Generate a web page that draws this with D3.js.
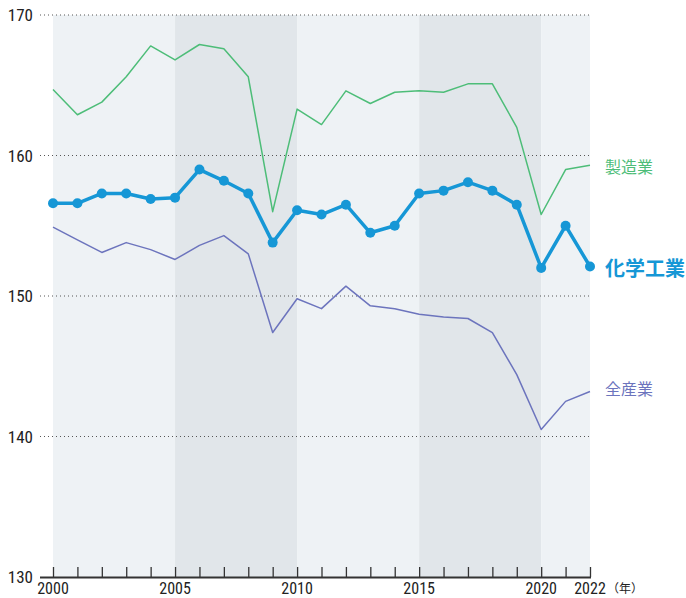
<!DOCTYPE html>
<html><head><meta charset="utf-8">
<script src="https://cdn.jsdelivr.net/npm/d3@7"></script>
<style>body{margin:0;background:#fff}</style>
</head><body><svg id="c" width="686" height="598"></svg>
<script>
const years = d3.range(2000, 2023);
const chemical = [156.6,156.6,157.3,157.3,156.9,157.0,159.0,158.2,157.3,153.8,156.1,155.8,156.5,154.5,155.0,157.3,157.5,158.1,157.5,156.5,152.0,155.0,152.1];
const manufacturing = [164.7,162.9,163.8,165.6,167.8,166.8,167.9,167.6,165.6,156.0,163.3,162.2,164.6,163.7,164.5,164.6,164.5,165.1,165.1,162.0,155.8,159.0,159.3];
const allIndustry = [154.9,154.0,153.1,153.8,153.3,152.6,153.6,154.3,153.0,147.4,149.8,149.1,150.7,149.3,149.1,148.7,148.5,148.4,147.4,144.4,140.5,142.5,143.2];
const yTicks = [130,140,150,160,170];
const xTickLabels = [2000,2005,2010,2015,2020,2022];
const bands = [[2000,2005,"#eef2f5"],[2005,2010,"#e1e6ea"],[2010,2015,"#eef2f5"],[2015,2020,"#e1e6ea"],[2020,2022,"#eef2f5"]];
const seriesLabels = [
  {name:"製造業", data:manufacturing, color:"#4dbd78", width:1.5, bold:false, size:16, dy:2},
  {name:"化学工業", data:chemical, color:"#1697d6", width:3.5, bold:true, size:20, dy:3},
  {name:"全産業", data:allIndustry, color:"#6c74bd", width:1.5, bold:false, size:16, dy:-2}
];

const svg = d3.select("#c");
const x = d3.scaleLinear().domain([2000,2022]).range([53,590]);
const y = d3.scaleLinear().domain([130,170]).range([577,15]);
const numFont = "'Liberation Sans Narrow','Roboto Condensed','Arial Narrow',sans-serif";

svg.selectAll("rect.band").data(bands).join("rect")
  .attr("x", d=>x(d[0])).attr("width", d=>x(d[1])-x(d[0]))
  .attr("y", y(170)).attr("height", y(130)-y(170)).attr("fill", d=>d[2]);

svg.selectAll("line.grid").data(yTicks.filter(t=>t>130)).join("line")
  .attr("x1", 40).attr("x2", 590).attr("y1", d=>y(d)).attr("y2", d=>y(d))
  .attr("stroke", "#555").attr("stroke-width", 1).attr("stroke-dasharray", "1,3");

svg.selectAll("text.yl").data(yTicks).join("text")
  .attr("x", 33).attr("y", d=>y(d)+6).attr("text-anchor","end")
  .attr("font-family", numFont).attr("font-size", 17).attr("fill","#222").text(d=>d);

const xAxis = d3.axisTop(x).tickValues(years).tickSize(10).tickFormat("");
const gx = svg.append("g").attr("transform", `translate(0,${y(130)})`).call(xAxis);
gx.select(".domain").remove();
gx.selectAll(".tick line").attr("stroke","#333").attr("stroke-width",1.3);
svg.append("line").attr("x1",40).attr("x2",591).attr("y1",y(130)+0.5).attr("y2",y(130)+0.5)
  .attr("stroke","#333").attr("stroke-width",2);

svg.selectAll("text.xl").data(xTickLabels).join("text")
  .attr("x", d=>x(d)).attr("y", 594).attr("text-anchor","middle")
  .attr("font-family", numFont).attr("font-size", 16).attr("fill","#222").text(d=>d);
svg.append("text").attr("x", x(2022)+17).attr("y", 593)
  .attr("font-family","'Noto Sans CJK JP',sans-serif").attr("font-size",12).attr("fill","#222").text("（年）");

const line = d3.line().x((d,i)=>x(years[i])).y(d=>y(d));
seriesLabels.forEach(s=>{
  svg.append("path").datum(s.data).attr("d", line).attr("fill","none")
    .attr("stroke", s.color).attr("stroke-width", s.width).attr("stroke-linejoin","round");
});
svg.selectAll("circle.pt").data(chemical).join("circle")
  .attr("cx",(d,i)=>x(years[i])).attr("cy", d=>y(d)).attr("r",5).attr("fill","#1697d6");

seriesLabels.forEach(s=>{
  svg.append("text").attr("x", 605).attr("y", y(s.data[s.data.length-1])+s.dy+s.size*0.35)
    .attr("font-family","'Noto Sans CJK JP',sans-serif").attr("font-size", s.size)
    .attr("font-weight", s.bold?"bold":"normal").attr("fill", s.color).text(s.name);
});
</script></body></html>
